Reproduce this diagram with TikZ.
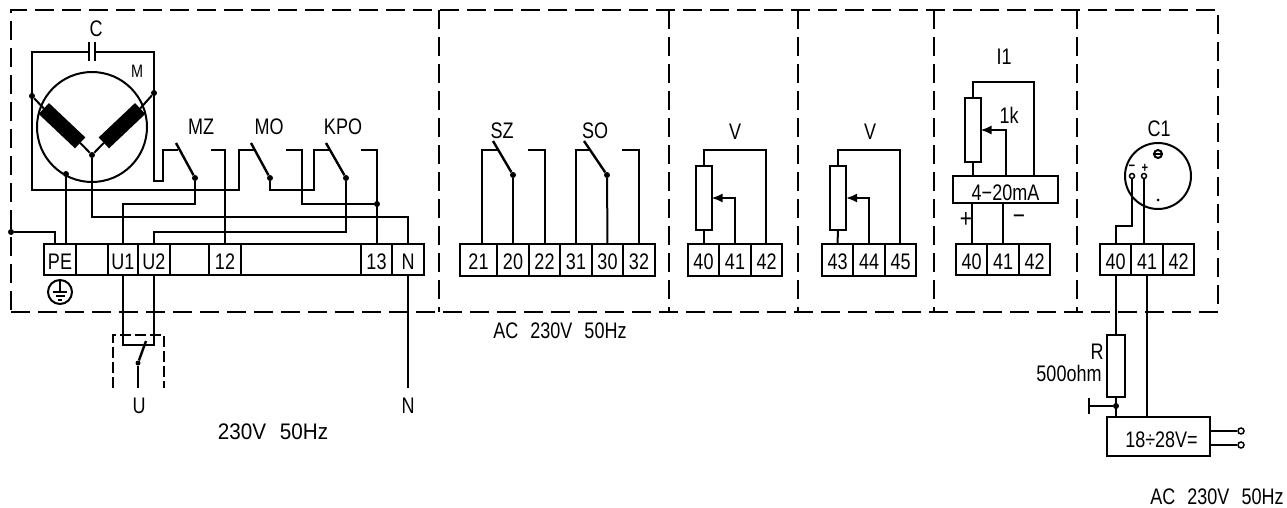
\documentclass[tikz,border=0pt]{standalone}
\usepackage{fontspec}
\setmainfont[FakeStretch=0.8,WordSpace=2.4]{Liberation Sans}
\usetikzlibrary{arrows.meta}

\begin{document}
\begin{tikzpicture}[
	x=1pt,y=-1pt,
	node distance=31.5pt,
	wire/.style={line width=2pt},
	tipwire/.style={wire,-{Latex[length=11pt,width=9pt]}},
	blade/.style={line width=2.4pt},
	framewire/.style={line width=2pt,dash pattern=on 19pt off 8pt},
	thinframe/.style={line width=1.5pt,dash pattern=on 11pt off 4pt},
	terminalnode/.style={
		rectangle,draw,line width=2pt,outer sep=0pt,inner sep=0pt,
		minimum width=31.5pt,minimum height=31.5pt,
		text height=19pt,text depth=0pt,font=\fontsize{22.5}{22.5}\selectfont},
	potnode/.style={rectangle,draw,line width=2pt,outer sep=0pt,minimum width=16pt,minimum height=64pt},
	boxnode/.style={
		rectangle,draw,line width=2pt,outer sep=0pt,inner sep=0pt,
		text height=21pt,text depth=0pt,font=\fontsize{22.5}{22.5}\selectfont},
	dotnode/.style={circle,fill=black,inner sep=0pt,minimum size=6pt},
	opennode/.style={circle,draw,fill=white,line width=1.5pt,inner sep=0pt,minimum size=6pt},
	coilnode/.style={rectangle,fill=black,outer sep=0pt,inner sep=0pt,minimum width=50pt,minimum height=15pt},
	tagnode/.style={inner sep=0pt,font=\fontsize{22.5}{22.5}\selectfont},
	widetag/.style={inner sep=0pt,font=\fontsize{22.5}{22.5}\selectfont\addfontfeature{FakeStretch=0.92}},
	smalltag/.style={inner sep=0pt,font=\fontsize{18}{18}\selectfont},
	bigtag/.style={inner sep=0pt,font=\fontsize{26}{26}\selectfont}
	]
	\useasboundingbox (0,0) rectangle (1287,508);
	% FRAME
	\node [rectangle,draw,framewire,outer sep=0pt,minimum width=1207pt,minimum height=302pt] (frame) at (614.5,161) {};
	\coordinate (sepA) at (439,10);
	\coordinate (sepB) at (669,10);
	\coordinate (sepC) at (798,10);
	\coordinate (sepD) at (934,10);
	\coordinate (sepE) at (1077,10);
	\draw [framewire] (sepA) -- (sepA |- frame.south);
	\draw [framewire] (sepB) -- (sepB |- frame.south);
	\draw [framewire] (sepC) -- (sepC |- frame.south);
	\draw [framewire] (sepD) -- (sepD |- frame.south);
	\draw [framewire] (sepE) -- (sepE |- frame.south);

	% MOTOR
	\node [circle,draw,line width=2pt,outer sep=0pt,minimum size=110pt] (motor) at (92,127) {};
	\node [coilnode,rotate=-43.4] (coilL) at (62,125.7) {};
	\node [coilnode,rotate=43.4] (coilR) at (122,125.7) {};
	\node [dotnode] (motorL) at (32,96) {};
	\node [dotnode] (motorR) at (154,93) {};
	\node [dotnode] (star) at (92,155) {};
	\node [dotnode] (motorPE) at (66,174) {};
	\draw [wire] (motorL) -- (coilL.west);
	\draw [wire] (motorR) -- (coilR.east);
	\draw [wire] (coilL.east) -- (star);
	\draw [wire] (coilR.west) -- (star);
	\node [tagnode] (tagC) at (96,29) {C};
	\node [smalltag] (tagM) at (137,71) {M};
	\coordinate (capL) at (89,52);
	\coordinate (capR) at (95,52);
	\draw [wire] ([yshift=9.5pt]capL) -- ([yshift=-9.5pt]capL);
	\draw [wire] ([yshift=9.5pt]capR) -- ([yshift=-9.5pt]capR);

	% MAIN TERMINALS
	\node [terminalnode,minimum width=32pt] (termPE) at (60,259.5) {PE};
	\node [terminalnode,minimum width=32pt] (termA) at (92,259.5) {};
	\node [terminalnode,minimum width=30pt] (termU1) at (123,259.5) {U1};
	\node [terminalnode,minimum width=32pt] (termU2) at (154,259.5) {U2};
	\node [terminalnode,minimum width=39pt] (termB) at (189.5,259.5) {};
	\node [terminalnode,minimum width=32pt] (term12) at (225,259.5) {12};
	\node [terminalnode,minimum width=120pt] (termC) at (301,259.5) {};
	\node [terminalnode,minimum width=31pt] (term13) at (376.5,259.5) {13};
	\node [terminalnode,minimum width=32pt] (termN) at (408,259.5) {N};

	% MZ, MO, KPO
	\node [dotnode] (pivotMZ) at (195,178) {};
	\node [dotnode] (pivotMO) at (270,178) {};
	\node [dotnode] (pivotKPO) at (346,178) {};
	\node [dotnode] (join13) at (377,204) {};
	\node [tagnode] (tagMZ) at (201,127) {MZ};
	\node [tagnode] (tagMO) at (269,127) {MO};
	\node [tagnode] (tagKPO) at (343,127) {KPO};
	\coordinate (tipMZ) at (176,143);
	\coordinate (tipMO) at (251,143);
	\coordinate (tipKPO) at (326,143);
	\draw [blade] (tipMZ) -- (pivotMZ);
	\draw [blade] (tipMO) -- (pivotMO);
	\draw [blade] (tipKPO) -- (pivotKPO);
	\coordinate (mzLow) at (154,181);
	\coordinate (mzIn) at (163,150);
	\coordinate (mzOpen) at (178,150);
	\coordinate (moLow) at (32,190);
	\coordinate (moIn) at (239,150);
	\coordinate (moOpen) at (254,150);
	\coordinate (kpoIn) at (314,150);
	\coordinate (kpoOpen) at (329,150);
	\coordinate (mzBack) at (211,150);
	\coordinate (moBack) at (286,150);
	\coordinate (kpoBack) at (361,150);
	\coordinate (bendU1) at (195,204);
	\coordinate (bendU2) at (346,232);
	\coordinate (bendMO) at (302,204);
	\coordinate (bendStar) at (92,217);

	\draw [wire] (capR) -| (mzLow) -| (mzIn) -- (mzOpen);
	\draw [wire] (capL) -| (moLow) -| (moIn) -- (moOpen);
	\draw [wire] (pivotMO) |- (kpoIn |- moLow) -- (kpoIn) -- (kpoOpen);
	\draw [wire] (mzBack) -| (term12.north);
	\draw [wire] (moBack) -| (bendMO) -- (join13);
	\draw [wire] (kpoBack) -| (term13.north);
	\draw [wire] (termU1.north) |- (bendU1) -- (pivotMZ);
	\draw [wire] (termU2.north) |- (bendU2) -- (pivotKPO);
	\draw [wire] (star) -- (bendStar) -| (termN.north);
	\draw [wire] (motorPE) -- (motorPE |- termPE.north);

	% EARTH
	\node [dotnode] (earthDot) at (11,232) {};
	\draw [wire] (earthDot) -| ([xshift=-5pt]termPE.north);
	\node [circle,draw,line width=2pt,outer sep=0pt,minimum size=24pt] (earth) at (60,292) {};
	\draw [wire] (earth.north) -- (earth.center);
	\draw [wire] ([xshift=-7pt]earth.center) -- ([xshift=7pt]earth.center);
	\draw [wire] ([xshift=-4.5pt,yshift=-4pt]earth.center) -- ([xshift=4.5pt,yshift=-4pt]earth.center);
	\draw [wire] ([xshift=-2pt,yshift=-8pt]earth.center) -- ([xshift=2pt,yshift=-8pt]earth.center);

	% U, N
	\node [dotnode,minimum size=5pt] (pivotU) at (138,363) {};
	\coordinate (tipU) at (146,341);
	\coordinate (bendU) at (146,345);
	\coordinate (endU) at (138,388);
	\coordinate (endN) at (408,388);
	\draw [wire] (termU1.south) |- (bendU);
	\draw [wire] (termU2.south) |- (bendU);
	\draw [blade] (tipU) -- (pivotU);
	\draw [wire] (pivotU) -- (endU);
	\draw [wire] (termN.south) -- (endN);
	\coordinate (caseL) at (113,388);
	\coordinate (caseTop) at (164,335);
	\coordinate (caseR) at (164,388);
	\draw [thinframe] (caseL) |- (caseTop) -- (caseR);
	\node [tagnode] (tagU) at (139,406) {U};
	\node [tagnode] (tagN) at (408,406) {N};
	\node [widetag] (tagHz) at (273,432) {230V 50Hz};

	% SZ, SO
	\node [terminalnode,minimum width=37pt] (term21) at (478.5,260) {21};
	\node [terminalnode,minimum width=32pt] (term20) at (513,260) {20};
	\node [terminalnode,minimum width=31pt,right of=term20] (term22) {22};
	\node [terminalnode,minimum width=32pt,right of=term22] (term31) {31};
	\node [terminalnode,right of=term31] (term30) {30};
	\node [terminalnode,right of=term30] (term32) {32};
	\node [dotnode] (pivotSZ) at (513,175) {};
	\node [dotnode] (pivotSO) at (607,175) {};
	\coordinate (tipSZ) at (493,141);
	\coordinate (tipSO) at (584,141);
	\coordinate (szBack) at (528,150);
	\coordinate (soBack) at (622,150);
	\draw [blade] (tipSZ) -- (pivotSZ);
	\draw [blade] (tipSO) -- (pivotSO);
	\draw [wire] (pivotSZ) -- (term20.north);
	\draw [wire] (pivotSO) -- (term30.north);
	\draw [wire] ([xshift=3.5pt]term21.north) |- ([xshift=5pt]tipSZ |- szBack);
	\draw [wire] (term31.north) |- ([xshift=5pt]tipSO |- soBack);
	\draw [wire] (szBack) -| (term22.north);
	\draw [wire] (soBack) -| (term32.north);
	\node [tagnode] (tagSZ) at (502,131) {SZ};
	\node [tagnode] (tagSO) at (595,131) {SO};
	\node [tagnode] (tagAC) at (560,331) {AC 230V 50Hz};

	% V
	\begin{scope}
		\node [terminalnode] (termV40) at (703.5,260) {40};
		\node [terminalnode,right of=termV40] (termV41) {41};
		\node [terminalnode,right of=termV41] (termV42) {42};
		\node [potnode] (potV) at (703.5,198) {};
		\node [tagnode] (tagV) at (735,132) {V};
		\coordinate (bendV) at (766,150);
		\draw [wire] (potV.south) -- (termV40.north);
		\draw [wire] (potV.north) |- (bendV) -- (bendV |- termV42.north);
		\draw [tipwire] (termV41.north) |- (potV.east);
	\end{scope}
	% V
	\begin{scope}
		\node [terminalnode] (termW43) at (837.5,260) {43};
		\node [terminalnode,right of=termW43] (termW44) {44};
		\node [terminalnode,right of=termW44] (termW45) {45};
		\node [potnode] (potW) at (838,198) {};
		\node [tagnode] (tagW) at (870,132) {V};
		\coordinate (bendW) at (900,150);
		\draw [wire] (potW.south) -- (termW43.north);
		\draw [wire] (potW.north) |- (bendW) -- (bendW |- termW45.north);
		\draw [tipwire] (termW44.north) |- (potW.east);
	\end{scope}

	% I1
	\begin{scope}
		\node [terminalnode] (termI40) at (971.5,259.5) {40};
		\node [terminalnode,right of=termI40] (termI41) {41};
		\node [terminalnode,right of=termI41] (termI42) {42};
		\node [boxnode,minimum width=105pt,minimum height=27pt] (boxMa) at (1005.5,189.5) {4−20mA\hspace{17pt}};
		\node [potnode] (potI) at (972.5,130) {};
		\node [tagnode] (tagI) at (1004,57) {I1};
		\node [tagnode] (tag1k) at (1009,115) {1k};
		\node [bigtag] (tagPlus) at (966,220) {+};
		\node [bigtag] (tagMinus) at (1019,220) {−};
		\coordinate (bendI) at (1034,82);
		\draw [wire] (potI.south) -- (potI.south |- boxMa.north);
		\draw [wire] (potI.north) |- (bendI) -- (bendI |- boxMa.north);
		\draw [tipwire] (boxMa.north) |- (potI.east);
		\draw [wire] (termI40.north) -- (termI40.north |- boxMa.south);
		\draw [wire] (termI41.north) -- (termI41.north |- boxMa.south);
	\end{scope}

	% C1
	\begin{scope}
		\node [terminalnode] (termC40) at (1115.5,259.5) {40};
		\node [terminalnode,right of=termC40] (termC41) {41};
		\node [terminalnode,right of=termC41] (termC42) {42};
		\node [circle,draw,line width=2pt,outer sep=0pt,minimum size=66pt] (sensor) at (1158,176) {};
		\node [tagnode] (tagC1) at (1159,129) {C1};
		\node [opennode,minimum size=5pt] (openMinus) at (1132,176) {};
		\node [opennode,minimum size=5pt] (openPlus) at (1144,176) {};
		\node [inner sep=0pt,font=\fontsize{14}{14}\bfseries] (tagOpenMinus) at (1132,168) {−};
		\node [inner sep=0pt,font=\fontsize{14}{14}\bfseries] (tagOpenPlus) at (1145,168) {+};
		\node [circle,draw,line width=2pt,inner sep=0pt,minimum size=8pt] (screw) at (1158,154) {};
		\draw [line width=2pt] (screw.west) -- (screw.east);
		\node [circle,fill=black,inner sep=0pt,minimum size=3pt] (hole) at (1158,200) {};
		\coordinate (bendC) at (1115.5,226);
		\draw [wire] (openMinus.south) |- (bendC) -- (termC40.north);
		\draw [wire] (openPlus.south) -- (openPlus.south |- termC41.north);
		% R and supply
		\node [potnode,minimum width=18pt,minimum height=62pt] (resistor) at (1116,366) {};
		\node [tagnode] (tagR) at (1097,352) {R};
		\node [tagnode] (tagOhm) at (1069,373) {500ohm};
		\node [boxnode,minimum width=103pt,minimum height=39pt] (supply) at (1158.5,436.5) {\hspace{6pt}18÷28V=};
		\node [dotnode] (joinR) at (1116,406) {};
		\coordinate (tickR) at (1089,406);
		\draw [wire] (termC40.south) -- (termC40.south |- resistor.north);
		\draw [wire] (resistor.south) -- (resistor.south |- supply.north);
		\draw [wire] (joinR) -- (tickR);
		\draw [wire] ([yshift=8pt]tickR) -- ([yshift=-8pt]tickR);
		\draw [wire] (termC41.south) -- (termC41.south |- supply.north);
		\node [opennode] (outA) at (1241,431) {};
		\node [opennode] (outB) at (1241,445) {};
		\draw [wire] (outA) -- (outA -| supply.east);
		\draw [wire] (outB) -- (outB -| supply.east);
		\node [tagnode] (tagSupply) at (1217,497) {AC 230V 50Hz};
	\end{scope}
\end{tikzpicture}
\end{document}
